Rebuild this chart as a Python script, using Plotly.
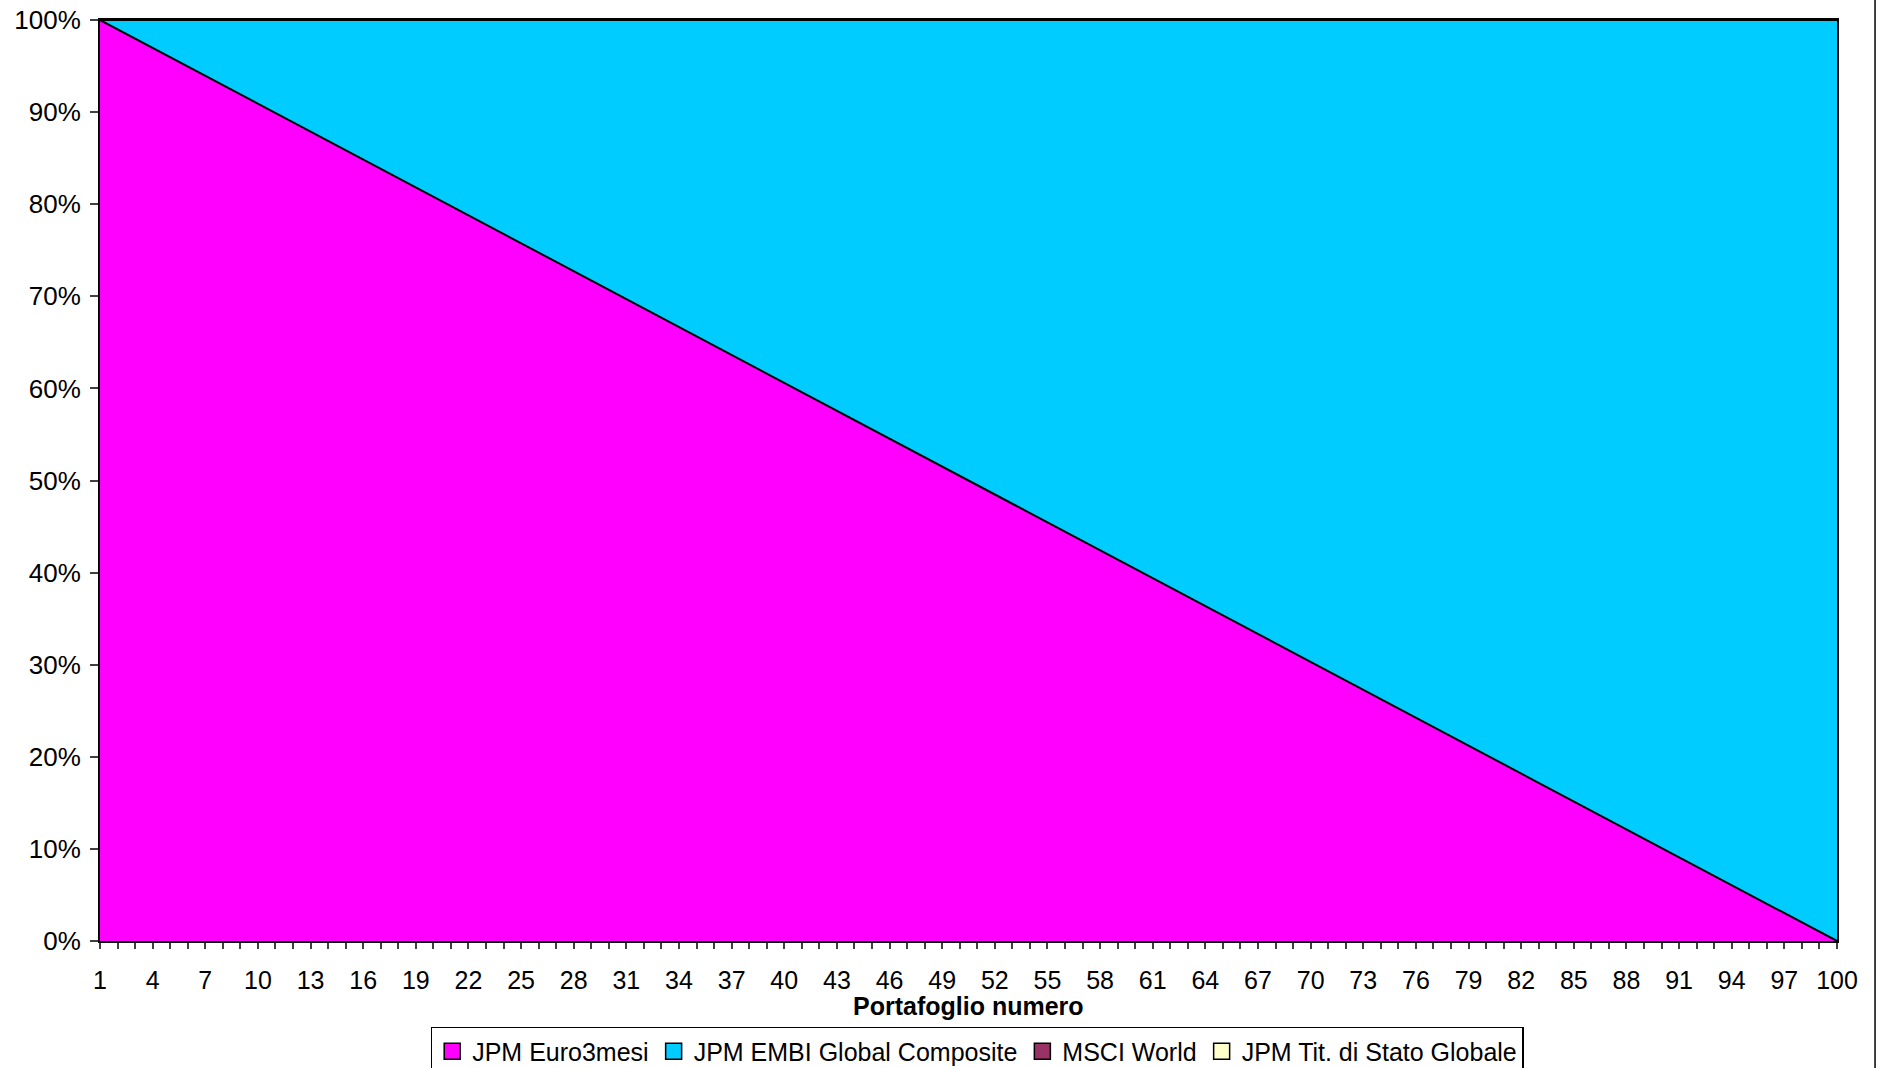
import plotly.graph_objects as go

portafoglio = list(range(1, 101))

euro3mesi = [100.00, 98.99, 97.98, 96.97, 95.96, 94.95, 93.94, 92.93, 91.92, 90.91,
             89.90, 88.89, 87.88, 86.87, 85.86, 84.85, 83.84, 82.83, 81.82, 80.81,
             79.80, 78.79, 77.78, 76.77, 75.76, 74.75, 73.74, 72.73, 71.72, 70.71,
             69.70, 68.69, 67.68, 66.67, 65.66, 64.65, 63.64, 62.63, 61.62, 60.61,
             59.60, 58.59, 57.58, 56.57, 55.56, 54.55, 53.54, 52.53, 51.52, 50.51,
             49.49, 48.48, 47.47, 46.46, 45.45, 44.44, 43.43, 42.42, 41.41, 40.40,
             39.39, 38.38, 37.37, 36.36, 35.35, 34.34, 33.33, 32.32, 31.31, 30.30,
             29.29, 28.28, 27.27, 26.26, 25.25, 24.24, 23.23, 22.22, 21.21, 20.20,
             19.19, 18.18, 17.17, 16.16, 15.15, 14.14, 13.13, 12.12, 11.11, 10.10,
             9.09, 8.08, 7.07, 6.06, 5.05, 4.04, 3.03, 2.02, 1.01, 0.00]

embi = [0.00, 1.01, 2.02, 3.03, 4.04, 5.05, 6.06, 7.07, 8.08, 9.09,
        10.10, 11.11, 12.12, 13.13, 14.14, 15.15, 16.16, 17.17, 18.18, 19.19,
        20.20, 21.21, 22.22, 23.23, 24.24, 25.25, 26.26, 27.27, 28.28, 29.29,
        30.30, 31.31, 32.32, 33.33, 34.34, 35.35, 36.36, 37.37, 38.38, 39.39,
        40.40, 41.41, 42.42, 43.43, 44.44, 45.45, 46.46, 47.47, 48.48, 49.49,
        50.51, 51.52, 52.53, 53.54, 54.55, 55.56, 56.57, 57.58, 58.59, 59.60,
        60.61, 61.62, 62.63, 63.64, 64.65, 65.66, 66.67, 67.68, 68.69, 69.70,
        70.71, 71.72, 72.73, 73.74, 74.75, 75.76, 76.77, 77.78, 78.79, 79.80,
        80.81, 81.82, 82.83, 83.84, 84.85, 85.86, 86.87, 87.88, 88.89, 89.90,
        90.91, 91.92, 92.93, 93.94, 94.95, 95.96, 96.97, 97.98, 98.99, 100.00]

msci_world = [0.0] * 100
tit_stato = [0.0] * 100

series_names = ["JPM Euro3mesi", "JPM EMBI Global Composite", "MSCI World", "JPM Tit. di Stato Globale"]
series_values = [euro3mesi, embi, msci_world, tit_stato]
series_colors = ["#FF00FF", "#00CCFF", "#993366", "#FFFFCC"]

x_tick_labels = [str(v) for v in range(1, 101, 3)]
y_tick_vals = list(range(0, 101, 10))
y_tick_labels = [f"{v}%" for v in y_tick_vals]

FONT = "Liberation Sans, Arial, sans-serif"

fig = go.Figure()
for name, vals, col in zip(series_names, series_values, series_colors):
    fig.add_trace(go.Scatter(
        x=portafoglio, y=vals, name=name, stackgroup="one", mode="lines",
        line=dict(color="black", width=2), fillcolor=col, showlegend=False,
        hoverinfo="x+y+name",
    ))
# legend entries with square swatches
for name, col in zip(series_names, series_colors):
    fig.add_trace(go.Scatter(
        x=[None], y=[None], mode="markers", name=name,
        marker=dict(symbol="square", size=17, color=col, line=dict(color="black", width=1.5)),
        showlegend=True,
    ))

fig.update_layout(
    width=1879, height=1068,
    margin=dict(l=100, r=42, t=20, b=127, autoexpand=False),
    paper_bgcolor="white", plot_bgcolor="white",
    font=dict(family=FONT, size=25, color="black"),
    showlegend=True,
    legend=dict(
        orientation="h", traceorder="normal",
        x=0.505, xanchor="center", y=0.0385, yanchor="top", yref="container",
        bordercolor="black", borderwidth=1.5, bgcolor="white",
        font=dict(family=FONT, size=25),
        itemwidth=30, tracegroupgap=0,
    ),
    xaxis=dict(
        range=[1, 100], tickmode="array", tickvals=[int(t) for t in x_tick_labels],
        ticktext=x_tick_labels, ticks="outside", ticklen=6, tickcolor="#404040",
        tickwidth=1.5, tickfont=dict(size=25),
        minor=dict(ticks="outside", dtick=1, tick0=1, ticklen=6, tickcolor="#404040", tickwidth=1.5),
        showgrid=False, zeroline=False, showline=True, linecolor="black", linewidth=2,
        mirror=True, ticklabelstandoff=10,
    ),
    yaxis=dict(
        range=[0, 100], tickmode="array", tickvals=y_tick_vals, ticktext=y_tick_labels,
        ticks="outside", ticklen=8, tickcolor="#404040", tickwidth=1.5,
        tickfont=dict(size=26),
        showgrid=False, zeroline=False, showline=True, linecolor="black", linewidth=2,
        mirror=True, ticklabelstandoff=4,
    ),
    annotations=[dict(
        text="<b>Portafoglio numero</b>", xref="paper", yref="paper",
        x=0.5, y=-0.0706, xanchor="center", yanchor="middle", showarrow=False,
        font=dict(family=FONT, size=25, color="black"),
    )],
    shapes=[dict(
        type="line", xref="paper", yref="paper", x0=1.0219, x1=1.0219, y0=-0.2, y1=1.1,
        line=dict(color="black", width=1.5),
    )],
)

fig.write_html("out.html", config={"displayModeBar": False},
               post_script="document.body.style.margin='0';")
